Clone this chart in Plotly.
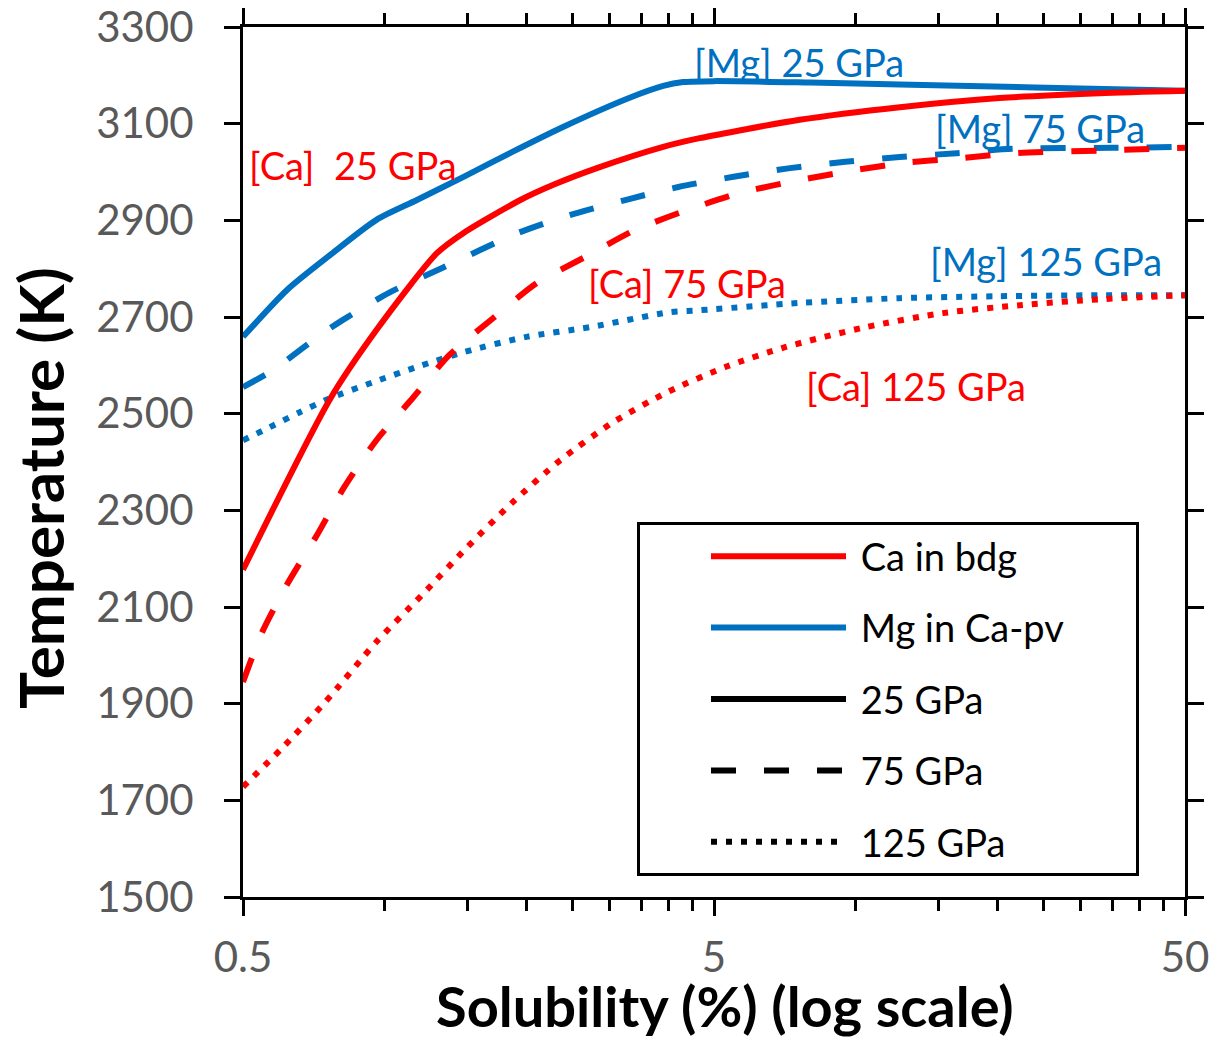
import math
import plotly.graph_objects as go

# ---------------- data ----------------
# Ca in bridgmanite (red)
ca25_x = [0.5, 0.765, 0.96, 1.29, 1.47, 1.94, 2.3, 2.82, 3.9, 4.66, 7.6, 12.4, 20.2, 32.9, 50]
ca25_y = [2177, 2530, 2673, 2832, 2874, 2942, 2975, 3008, 3052, 3070, 3108, 3134, 3153, 3163, 3168]

ca75_x = [0.5, 0.548, 0.623, 0.718, 0.82, 0.96, 1.15, 1.37, 1.70, 2.1, 2.66, 3.4, 4.38, 5.7, 7.4, 9.7, 12.7, 16.8, 22, 35, 50]
ca75_y = [1945, 2046, 2150, 2249, 2348, 2445, 2534, 2621, 2698, 2770, 2824, 2880, 2921, 2957, 2981, 3002, 3019, 3029, 3039, 3045, 3050]

ca125_x = [0.5, 0.605, 0.747, 0.96, 1.2, 1.49, 1.86, 2.36, 3.04, 3.99, 5.3, 7.1, 10.5, 15.3, 22.6, 33.4, 50]
ca125_y = [1728, 1808, 1903, 2028, 2125, 2222, 2315, 2404, 2481, 2545, 2597, 2638, 2679, 2708, 2725, 2737, 2745]

# Mg in Ca-perovskite (blue)
mg25_x = [0.5, 0.62, 0.765, 0.96, 1.17, 1.47, 1.87, 2.39, 3.3, 3.9, 4.3, 5.0, 8.0, 12.4, 24, 50]
mg25_y = [2659, 2756, 2828, 2901, 2942, 2990, 3042, 3093, 3153, 3178, 3186, 3188, 3185, 3181, 3175, 3168]

mg75_x = [0.5, 0.579, 0.72, 0.815, 1.02, 1.32, 1.92, 2.47, 3.24, 4.2, 5.5, 7.25, 9.5, 12.4, 16.4, 21.5, 35, 50]
mg75_y = [2555, 2590, 2659, 2694, 2750, 2801, 2874, 2911, 2942, 2969, 2990, 3008, 3021, 3031, 3039, 3048, 3050, 3052]

mg125_x = [0.5, 0.57, 0.66, 0.765, 0.944, 1.19, 1.48, 2.0, 2.73, 4.03, 4.66, 7.6, 12.4, 20, 33, 50]
mg125_y = [2445, 2472, 2503, 2532, 2565, 2599, 2628, 2659, 2679, 2710, 2714, 2729, 2739, 2743, 2745, 2745]

# axis ticks
x_major = [0.5, 5, 50]
x_major_text = ["0.5", "5", "50"]
x_minor = [1, 1.5, 2, 2.5, 3, 3.5, 4, 4.5, 10, 15, 20, 25, 30, 35, 40, 45]

# curve labels: (text, x, y, colour key)
labels_text = ["[Ca]  25 GPa", "[Mg] 25 GPa", "[Mg] 75 GPa", "[Mg] 125 GPa", "[Ca] 75 GPa", "[Ca] 125 GPa"]
labels_x = [0.856, 7.58, 24.6, 25.3, 4.38, 13.4]
labels_y = [3014, 3228, 3091, 2816, 2770, 2557]
labels_key = ["Ca", "Mg", "Mg", "Mg", "Ca", "Ca"]

x_title = "<b>Solubility (%) (log scale)</b>"
y_title = "<b>Temperature (K)</b>"

# ---------------- styling ----------------
RED = "#FF0000"
BLUE = "#0070C0"
COL = {"Ca": RED, "Mg": BLUE}
DASH = "25px,28px"
DOT = "6px,9px"
FONT = "Lato"
LW = 6

fig = go.Figure()


def add(x, y, color, dash):
    fig.add_trace(go.Scatter(x=x, y=y, mode="lines",
                             line=dict(color=color, width=LW, dash=dash,
                                       shape="spline", smoothing=0.7),
                             showlegend=False, hoverinfo="skip"))


# blue first (red drawn on top, as in the reference)
add(mg125_x, mg125_y, BLUE, DOT)
add(mg75_x, mg75_y, BLUE, DASH)
add(mg25_x, mg25_y, BLUE, "solid")
add(ca125_x, ca125_y, RED, DOT)
add(ca75_x, ca75_y, RED, DASH)
add(ca25_x, ca25_y, RED, "solid")

# legend-only entries (no-break spaces reproduce the reference's spacing / box width)
NB = "\u00a0"
legend_items = [("Ca in bdg", RED, "solid"), ("Mg in Ca-pv", BLUE, "solid"),
                ("25 GPa", "black", "solid"), ("75 GPa", "black", DASH),
                ("125 GPa", "black", DOT)]
for i, (name, c, d) in enumerate(legend_items):
    label = NB + name + (NB * 7 if i == 1 else "")
    fig.add_trace(go.Scatter(x=[None], y=[None], mode="lines", name=label,
                             legendgroup="g%d" % i,
                             line=dict(color=c, width=LW, dash=d)))

for t, x, y, k in zip(labels_text, labels_x, labels_y, labels_key):
    fig.add_annotation(x=math.log10(x), y=y, xref="x", yref="y", text=t,
                       showarrow=False, xanchor="center", yanchor="middle",
                       font=dict(family=FONT, size=38, color=COL[k]))

# axis titles
fig.add_annotation(x=(725 - 243) / 942, y=(897 - 1005) / 870, xref="paper", yref="paper",
                   text=x_title, showarrow=False, xanchor="center", yanchor="middle",
                   font=dict(family=FONT, size=56, color="black"))
fig.add_annotation(x=(40 - 243) / 942, y=(897 - 488) / 870, xref="paper", yref="paper",
                   text=y_title, showarrow=False, xanchor="center", yanchor="middle",
                   textangle=-90, font=dict(family=FONT, size=62, color="black"))

axis_common = dict(showline=True, linewidth=3, linecolor="black", mirror="ticks",
                   ticks="outside", tickwidth=3, tickcolor="black", showgrid=False,
                   zeroline=False, automargin=False,
                   tickfont=dict(family=FONT, size=42, color="#595959"))

fig.update_layout(
    width=1213, height=1041,
    margin=dict(l=243, r=28, t=27, b=144),
    paper_bgcolor="white", plot_bgcolor="white",
    xaxis=dict(type="log", range=[math.log10(0.5), math.log10(50)],
               tickmode="array", tickvals=x_major, ticktext=x_major_text,
               ticklen=16, ticklabelstandoff=6,
               minor=dict(tickmode="array", tickvals=x_minor, ticks="outside",
                          ticklen=11, tickwidth=3, tickcolor="black", showgrid=False),
               **axis_common),
    yaxis=dict(range=[1500, 3300], tick0=1500, dtick=200, ticklen=16,
               ticklabelstandoff=22, **axis_common),
    legend=dict(x=(637 - 243) / 942, y=(897 - 522) / 870, xanchor="left", yanchor="top",
                bordercolor="black", borderwidth=3, bgcolor="white",
                font=dict(family=FONT, size=38, color="black"),
                itemwidth=135, indentation=66, tracegroupgap=19),
)

fig.write_html("out.html")
